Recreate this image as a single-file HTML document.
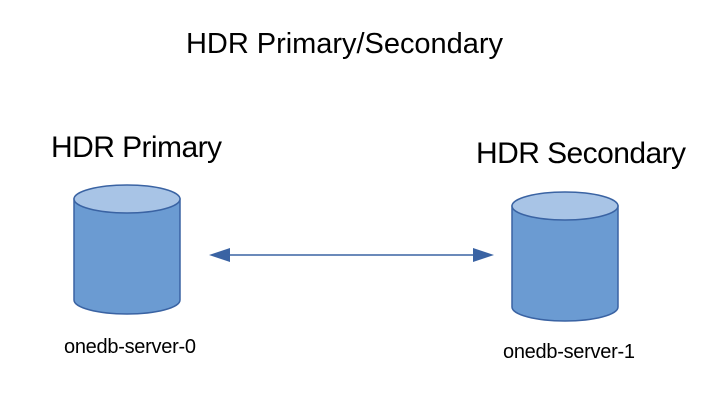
<!DOCTYPE html>
<html><head><style>
body{margin:0;background:#fff;}
svg text{font-family:"Liberation Sans",sans-serif;fill:#000;}
</style></head><body>
<svg width="706" height="404" xmlns="http://www.w3.org/2000/svg">
<rect width="706" height="404" fill="#fff"/>
<text x="186" y="53" font-size="29" textLength="317">HDR Primary/Secondary</text>
<text x="51" y="157" font-size="30" textLength="171">HDR Primary</text>
<text x="476" y="163" font-size="30" textLength="210">HDR Secondary</text>
<g stroke="#3a63a3" stroke-width="1.5">
<path d="M74,199 L74,300 A53,14 0 0 0 180,300 L180,199 Z" fill="#6b9bd2"/>
<ellipse cx="127" cy="199" rx="53" ry="14" fill="#a8c4e6"/>
<path d="M512,206 L512,307 A53,14 0 0 0 618,307 L618,206 Z" fill="#6b9bd2"/>
<ellipse cx="565" cy="206" rx="53" ry="14" fill="#a8c4e6"/>
</g>
<line x1="220" y1="255" x2="483" y2="255" stroke="#3a63a3" stroke-width="1.5"/>
<polygon points="209,255 230,248 230,262" fill="#3a63a3"/>
<polygon points="494,255 473,248 473,262" fill="#3a63a3"/>
<text x="64" y="353" font-size="20" textLength="132">onedb-server-0</text>
<text x="503" y="358" font-size="20" textLength="132">onedb-server-1</text>
</svg>
</body></html>
